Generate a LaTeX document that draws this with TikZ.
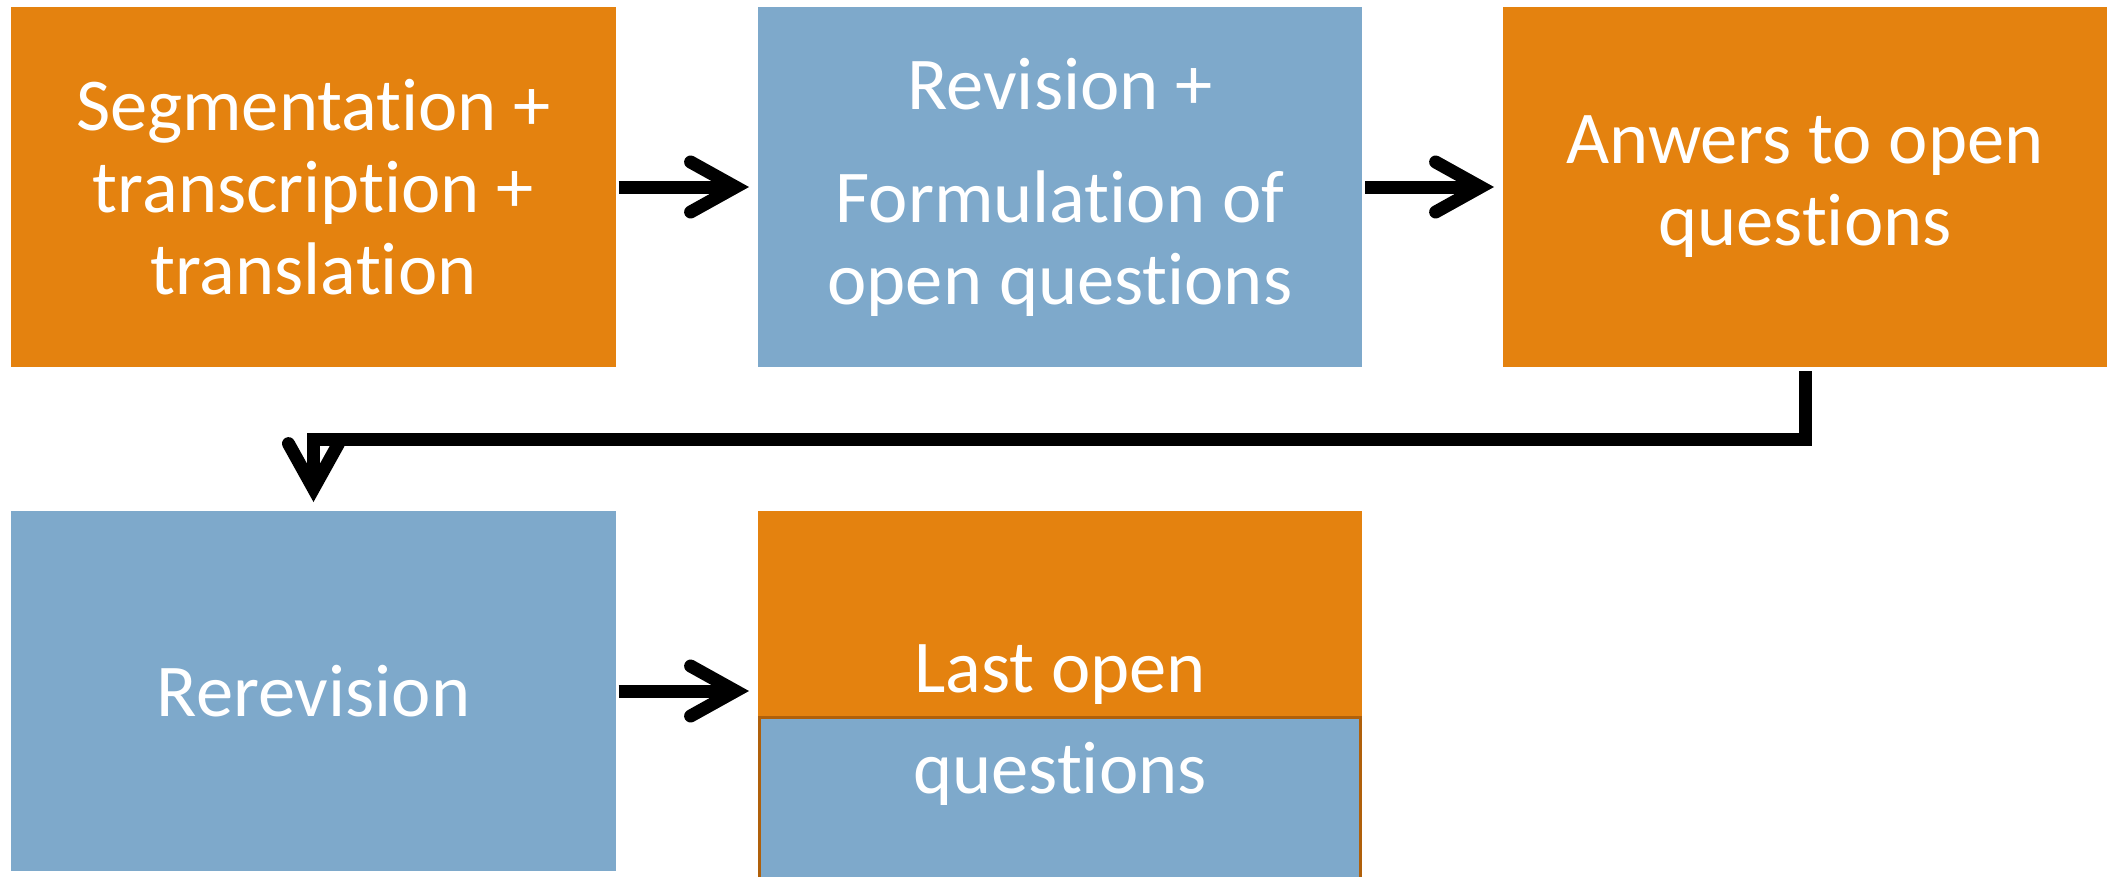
\documentclass[tikz,border=0pt]{standalone}
\usepackage{fontspec}
\setmainfont{Carlito}[Ligatures=NoCommon]
\usetikzlibrary{arrows.meta}
\definecolor{boxorange}{HTML}{E4820F}
\definecolor{boxblue}{HTML}{7EA9CB}
\definecolor{edgeorange}{HTML}{B0600A}

\begin{document}
\begin{tikzpicture}[every node/.style={minimum width=6.04cm, minimum height=3.6cm, inner sep=0pt, outer sep=0pt, align=center, text=white, font=\fontsize{21.2pt}{23.3pt}\selectfont},
  flow/.style={line width=0.13cm, -{Straight Barb[length=0.45cm, width=0.5cm, line cap=round]}, shorten <=0.03cm, shorten >=0.09cm}]
\useasboundingbox (0,0) rectangle (21.13,-8.77);
\node[fill=boxorange] (seg) at (3.135,-1.87) {Segmentation +\\transcription +\\translation};
\node[fill=boxblue] (rev) at (10.6,-1.87) {Revision +\\[0.31cm]Formulation of\\open questions};
\node[fill=boxorange] (ans) at (18.05,-1.87) {Anwers to open\\questions};
\node[fill=boxblue] (rerev) at (3.135,-6.91) {Rerevision};
\node[fill=boxorange] (last) at (10.6,-6.91) {};
\fill[boxblue] (7.58,-7.16) rectangle (13.62,-8.77);
\draw[edgeorange, line width=0.03cm] (7.595,-8.77) |- (13.605,-7.175) -- (13.605,-8.77);
\node (lasttext) at (10.6,-7.25) {Last open\\[0.19cm]questions};

\draw[flow] (seg) -- (rev);
\draw[flow] (rev) -- (ans);
\draw[flow] (rerev) -- (last);
\draw[flow, shorten <=0.04cm] (ans.south) -- ++(0,-0.72) -| (rerev.north);
\end{tikzpicture}
\end{document}
